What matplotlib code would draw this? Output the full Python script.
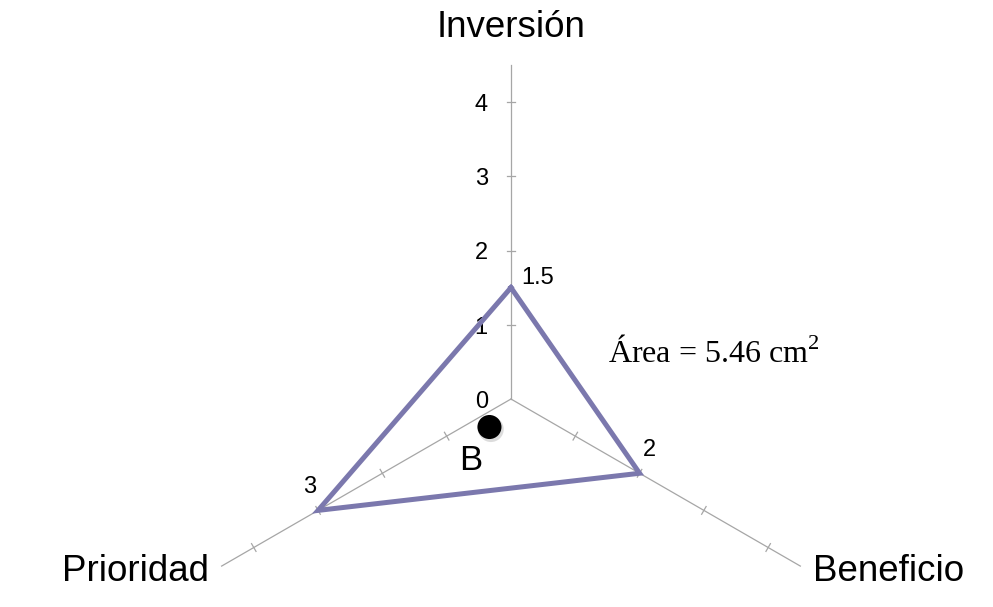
import numpy as np
import matplotlib.pyplot as plt

plt.rcParams['mathtext.fontset'] = 'custom'
plt.rcParams['mathtext.rm'] = 'Liberation Serif'

# radar data
axes_names = ['Inversión', 'Beneficio', 'Prioridad']
angles_deg = [90, -30, 210]
values = [1.5, 2, 3]
value_labels = ['1.5', '2', '3']
tick_values = [0, 1, 2, 3, 4]
axis_max = 4.5
point_b = (-0.29, -0.377)
area_text = r'Área = 5.46 cm$^\mathrm{2}$'

fig = plt.figure(figsize=(9.93, 6.07), dpi=100)
ax = fig.add_axes([0, 0, 1, 1])
ax.set_xlim(-6.882, 6.492)
ax.set_ylim(-2.801, 5.374)
ax.set_aspect('equal')
ax.axis('off')

ang = np.radians(angles_deg)
ux, uy = np.cos(ang), np.sin(ang)

# spokes with tick marks
for i in range(3):
    ax.plot([0, axis_max * ux[i]], [0, axis_max * uy[i]], color='#a6a6a6', lw=0.9, zorder=1)
    px, py = -uy[i], ux[i]
    for t in tick_values[1:]:
        cx, cy = t * ux[i], t * uy[i]
        ax.plot([cx - 0.06 * px, cx + 0.06 * px], [cy - 0.06 * py, cy + 0.06 * py],
                color='#a6a6a6', lw=0.9, zorder=1)

# tick labels on the vertical axis
for t in tick_values:
    ax.text(-0.40, t - 0.04, str(t), ha='center', va='center', fontsize=17, family='Liberation Sans')

# polygon
xs = [v * ux[i] for i, v in enumerate(values)]
ys = [v * uy[i] for i, v in enumerate(values)]
ax.plot(xs + xs[:1], ys + ys[:1], color='#7b78ad', lw=3.6, solid_joinstyle='miter', zorder=3)

# value labels
offsets = [(0.14, 0.13, 'left'), (0.04, 0.31, 'left'), (-0.03, 0.32, 'right')]
for i, lab in enumerate(value_labels):
    dx, dy, ha = offsets[i]
    ax.text(xs[i] + dx, ys[i] + dy, lab, ha=ha, va='center', fontsize=17, family='Liberation Sans')

# axis names
ax.text(0, 5.0, axes_names[0], ha='center', va='center', fontsize=26.5, family='Liberation Sans')
ax.text(5.09, -2.32, axes_names[1], ha='center', va='center', fontsize=26.5, family='Liberation Sans')
ax.text(-5.06, -2.32, axes_names[2], ha='center', va='center', fontsize=26.5, family='Liberation Sans')

# point B
ax.scatter([point_b[0] + 0.02], [point_b[1] - 0.03], s=340, color='#bbbbbb', alpha=0.5, zorder=4, edgecolors='none')
ax.scatter([point_b[0]], [point_b[1]], s=300, color='black', zorder=5, edgecolors='none')
ax.text(-0.539, -0.822, 'B', ha='center', va='center', fontsize=25, family='Liberation Sans')

# area annotation
ax.text(1.31, 0.62, area_text, ha='left', va='center', fontsize=23, family='Liberation Serif')

fig.savefig('out.png', dpi=100)
